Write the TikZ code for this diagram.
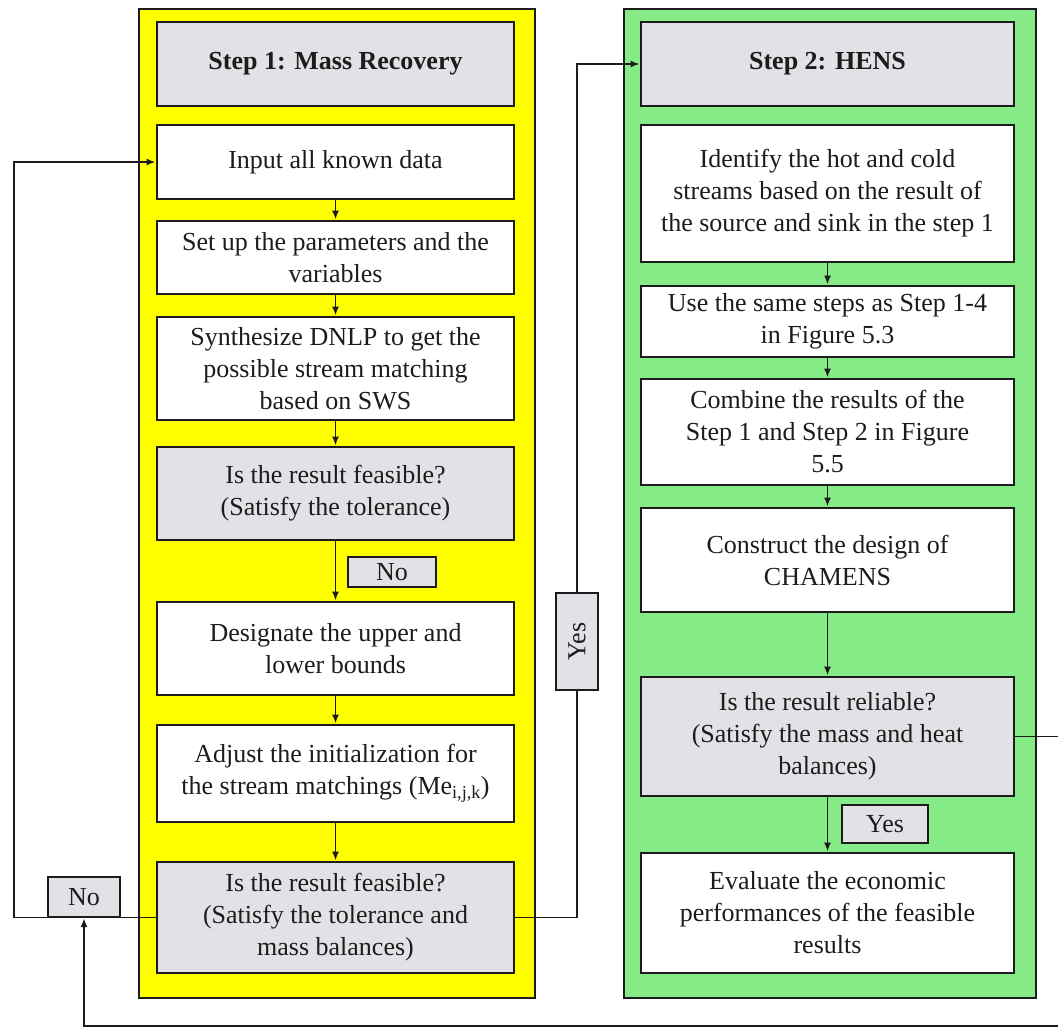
\documentclass[tikz,border=0pt]{standalone}
\usepackage{fontspec}
\setmainfont{Liberation Serif}
\usetikzlibrary{arrows.meta}
\definecolor{panelyellow}{RGB}{255,255,0}
\definecolor{panelgreen}{RGB}{134,234,134}
\definecolor{boxgray}{RGB}{226,226,230}
\definecolor{ink}{RGB}{28,28,28}
\begin{document}
\begin{tikzpicture}[x=1pt,y=-1pt,
  panel/.style={draw=ink,line width=2pt},
  flowbox/.style={draw=ink,line width=2.8pt,fill=white,text=ink,align=center,
    inner sep=0pt,font=\fontsize{26}{32}\selectfont},
  lbox/.style={flowbox,minimum width=357pt},
  rbox/.style={flowbox,minimum width=373pt},
  query/.style={fill=boxgray},
  headfont/.style={font=\bfseries\fontsize{26}{32}\selectfont},
  tag/.style={draw=ink,line width=2pt,fill=boxgray,text=ink,inner sep=0pt,
    font=\fontsize{26}{32}\selectfont},
  conn/.style={draw=ink,line width=1.8pt,-{Latex[length=9pt,width=7pt]}}]

\useasboundingbox (0,0) rectangle (1058,1029);
\fill[white] (0,0) rectangle (1058,1029);

% the two stage panels
\draw[panel,fill=panelyellow] (139,9) rectangle (535,998);
\draw[panel,fill=panelgreen] (624,9) rectangle (1036,998);

% Step 1 column
\node[lbox,query,headfont,minimum height=84pt] (h1) at (335.5,64) {Step 1: Mass Recovery};
\node[lbox,minimum height=74pt] (input) at (335.5,162) {Input all known data};
\node[lbox,minimum height=73pt] (setup) at (335.5,257.5) {Set up the parameters and the\\variables};
\node[lbox,minimum height=103pt] (synth) at (335.5,368.5) {Synthesize DNLP to get the\\possible stream matching\\based on SWS};
\node[lbox,query,minimum height=93pt] (feas1) at (335.5,493.5) {Is the result feasible?\\(Satisfy the tolerance)};
\node[lbox,minimum height=93pt] (design) at (335.5,648.5) {Designate the upper and\\lower bounds};
\node[lbox,minimum height=97pt] (adjust) at (335.5,773.5) {Adjust the initialization for\\the stream matchings (Me\textsubscript{i,j,k})};
\node[lbox,query,minimum height=111pt] (feas2) at (335.5,917.5) {Is the result feasible?\\(Satisfy the tolerance and\\mass balances)};

% Step 2 column
\node[rbox,query,headfont,minimum height=84pt] (h2) at (827.5,64) {Step 2: HENS};
\node[rbox,minimum height=137pt] (ident) at (827.5,193.5) {Identify the hot and cold\\streams based on the result of\\the source and sink in the step 1};
\node[rbox,minimum height=71pt] (usesame) at (827.5,321.5) {Use the same steps as Step 1-4\\in Figure 5.3};
\node[rbox,minimum height=106pt] (combine) at (827.5,432) {Combine the results of the\\Step 1 and Step 2 in Figure\\5.5};
\node[rbox,minimum height=104pt] (construct) at (827.5,560) {Construct the design of\\CHAMENS};
\node[rbox,query,minimum height=119pt] (reliable) at (827.5,736.5) {Is the result reliable?\\(Satisfy the mass and heat\\balances)};
\node[rbox,minimum height=120pt] (evaluate) at (827.5,913) {Evaluate the economic\\performances of the feasible\\results};

% decision labels
\node[tag,minimum width=88pt,minimum height=30pt] (nofirst) at (392,572) {No};
\node[tag,minimum width=86pt,minimum height=38pt] (yesrel) at (885,824) {Yes};
\node[tag,minimum width=72pt,minimum height=40pt] (noloop) at (84,897) {No};

% flow within Step 1
\draw[conn] (input.south) -- (setup.north);
\draw[conn] (setup.south) -- (synth.north);
\draw[conn] (synth.south) -- (feas1.north);
\draw[conn] (feas1.south) -- (design.north);
\draw[conn] (design.south) -- (adjust.north);
\draw[conn] (adjust.south) -- (feas2.north);

% flow within Step 2
\draw[conn] (ident.south) -- (usesame.north);
\draw[conn] (usesame.south) -- (combine.north);
\draw[conn] (combine.south) -- (construct.north);
\draw[conn] (construct.south) -- (reliable.north);
\draw[conn] (reliable.south) -- (evaluate.north);

% feedback and hand-over loops
\coordinate (loopL) at (14,917.5);
\coordinate (loopY) at (577,917.5);
\coordinate (loopR) at (1066,1026);
\coordinate (loopB) at (84,1026);
\draw[conn] (feas2.west) -- (loopL) |- (input.west);
\draw[conn] (feas2.east) -- (loopY) |- (h2.west);
\draw[conn] (reliable.east) -| (loopR) -- (loopB) -- (noloop.south);

% label on the hand-over line
\node[tag,minimum width=97pt,minimum height=42pt,rotate=90] (yesfeas) at (577,641.5) {Yes};
\end{tikzpicture}
\end{document}
